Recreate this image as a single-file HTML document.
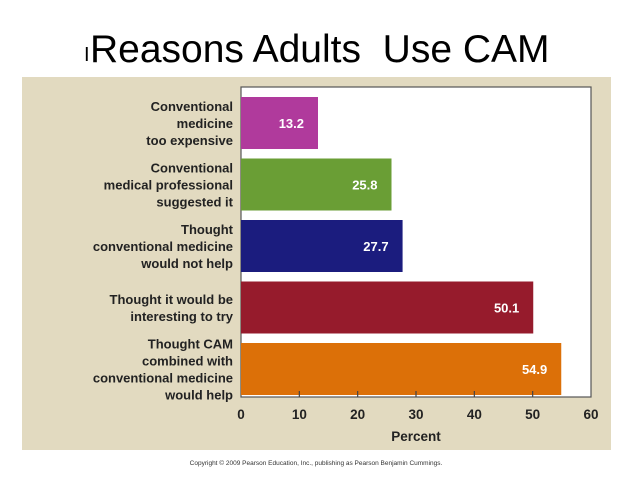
<!DOCTYPE html>
<html><head><meta charset="utf-8"><style>
body{margin:0;width:638px;height:479px;background:#fff;overflow:hidden;font-family:"Liberation Sans",Arial,sans-serif}
</style></head><body>
<svg width="638" height="479" xmlns="http://www.w3.org/2000/svg">
<text x="84" y="61" font-size="20" font-family="Liberation Sans">I</text>
<text x="90" y="62" font-size="39" font-family="Liberation Sans" xml:space="preserve">Reasons Adults  Use CAM</text>
<rect x="22" y="77" width="589" height="373" fill="#e2dac0"/>
<rect x="241" y="87" width="350" height="310" fill="#fff" stroke="#555" stroke-width="1.2"/>
<g id="bars"></g>
<g id="axis"></g>
<text x="416" y="441" font-size="13.5" font-weight="bold" text-anchor="middle" fill="#222">Percent</text>
<text x="316" y="465" font-size="6.5" text-anchor="middle" fill="#333">Copyright © 2009 Pearson Education, Inc., publishing as Pearson Benjamin Cummings.</text>
</svg>
<script>
const categories=[["Conventional","medicine","too expensive"],["Conventional","medical professional","suggested it"],["Thought","conventional medicine","would not help"],["Thought it would be","interesting to try"],["Thought CAM","combined with","conventional medicine","would help"]];
const values=[13.2,25.8,27.7,50.1,54.9];
const valueLabels=["13.2","25.8","27.7","50.1","54.9"];
const ticks=[0,10,20,30,40,50,60];
const colors=["#b03a9c","#6a9e35","#1b1c7e","#961b2c","#dc7008"];
const NS="http://www.w3.org/2000/svg";
const x0=241,x1=591,topY=97,slot=61.5,bh=52;
const xs=v=>x0+(v-ticks[0])/(ticks[ticks.length-1]-ticks[0])*(x1-x0);
const mk=(t,a)=>{const e=document.createElementNS(NS,t);for(const k in a)e.setAttribute(k,a[k]);return e;};
const gb=document.getElementById('bars'),ga=document.getElementById('axis');
values.forEach((v,i)=>{
 const y=topY+i*slot;
 const r=mk('rect',{x:x0,y:y,width:xs(v)-x0,height:bh,fill:colors[i]});
 
 
 gb.appendChild(r);
 const t=mk('text',{x:xs(v)-14,y:y+bh/2+5,'font-size':13,'font-weight':'bold',fill:'#fff','text-anchor':'end'});
 t.textContent=valueLabels[i];
 
 
 gb.appendChild(t);
 const lines=categories[i],lh=17;
 const cy=y+bh/2-(lines.length-1)*lh/2;
 lines.forEach((s,j)=>{
  const l=mk('text',{x:233,y:cy+j*lh+5,'font-size':13,'font-weight':'bold',fill:'#222','text-anchor':'end'});
  l.textContent=s;
  
  
  gb.appendChild(l);
 });
});
ticks.forEach(t=>{
 const x=xs(t);
 if(t>ticks[0]&&t<ticks[ticks.length-1]){const tk=mk('line',{x1:x,x2:x,y1:391,y2:397,stroke:'#444','stroke-width':1.2});
 
 
 ga.appendChild(tk);}
 const l=mk('text',{x:x,y:419,'font-size':13.5,'font-weight':'bold',fill:'#222','text-anchor':'middle'});
 l.textContent=t;
 
 
 ga.appendChild(l);
});
</script>
</body></html>
